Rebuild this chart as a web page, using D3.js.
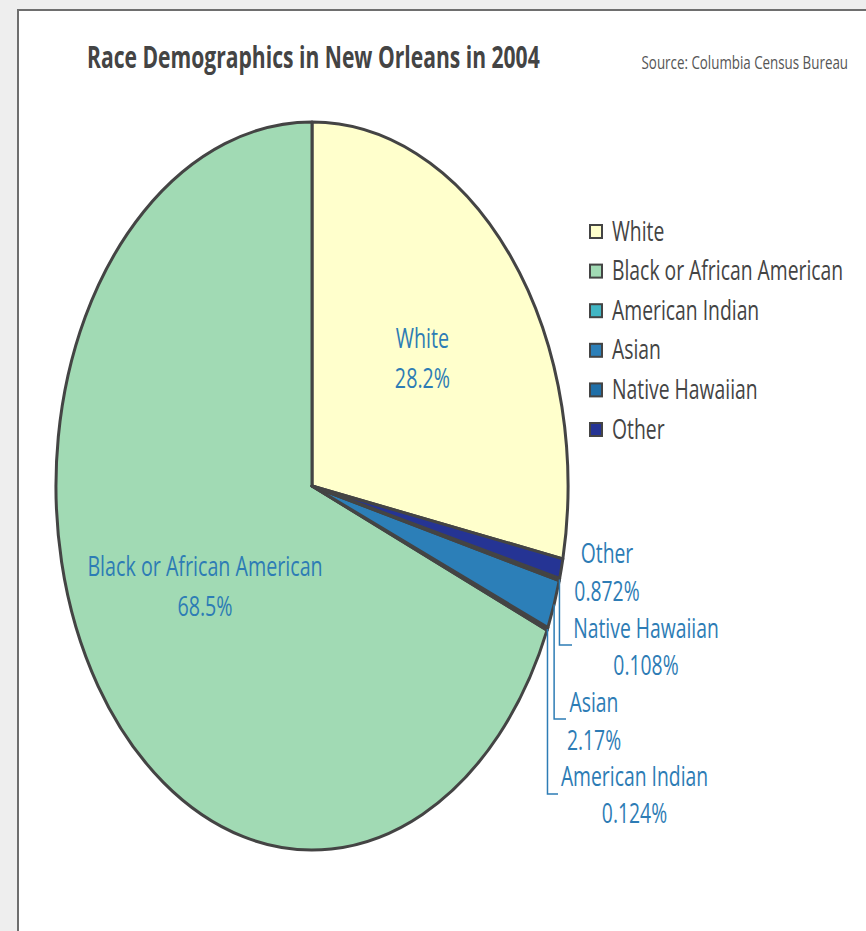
<!DOCTYPE html>
<html>
<head>
<meta charset="utf-8">
<script src="https://cdn.jsdelivr.net/npm/d3@7"></script>
<style>
  body { margin: 0; background: #eeeeee; overflow: hidden; }
  #panel { position: absolute; left: 17px; top: 9px; width: 900px; height: 1000px;
           background: #fff; border: 2px solid #6e6e6e; }
  svg { position: absolute; left: 0; top: 0; font-family: "Open Sans", sans-serif; }
</style>
</head>
<body>
<div id="panel"></div>
<svg width="866" height="931"></svg>
<script>
// pie chart - race demographics
var categories = ["White", "Black or African American", "American Indian", "Asian", "Native Hawaiian", "Other"];
var values = [28.2, 68.5, 0.124, 2.17, 0.108, 0.872];
var valueLabels = ["28.2%", "68.5%", "0.124%", "2.17%", "0.108%", "0.872%"];
var colors = ["#ffffcc", "#a1dab4", "#41b6c4", "#2c7fb8", "#1f6fa8", "#253494"];

var sx = 0.7034;          // picture is squeezed horizontally
var cx = 312, cy = 486, R = 364;
var labelColor = "#2d7cb5";

var svg = d3.select("svg");

function addText(x, y, str, size, color, anchor, weight) {
    return svg.append("g")
        .attr("transform", "translate(" + x + "," + y + ") scale(" + sx + ",1)")
        .append("text")
        .attr("dy", "0.35em")
        .attr("font-size", size)
        .attr("fill", color)
        .attr("text-anchor", anchor || "start")
        .attr("font-weight", weight || "normal")
        .text(str);
}

// title + source
addText(87, 57, "Race Demographics in New Orleans in 2004", 30, "#444", "start", "bold");
addText(848, 62, "Source: Columbia Census Bureau", 19, "#555", "end");

// pie, drawn counter-clockwise so that White starts at 12 o'clock
var total = d3.sum(values);
var a0 = 2 * Math.PI * values[0] / total;
var pie = d3.pie().sort(null).value(function (d) { return d; })
    .startAngle(a0).endAngle(a0 - 2 * Math.PI);
var arcs = pie(values);
var arc = d3.arc().innerRadius(0).outerRadius(R);

var pieG = svg.append("g")
    .attr("transform", "translate(" + cx + "," + cy + ") scale(" + sx + ",1)");
pieG.selectAll("path")
    .data(arcs)
    .enter()
    .append("path")
    .attr("d", arc)
    .attr("fill", function (d, i) { return colors[i]; })
    .attr("stroke", "#444")
    .attr("stroke-width", 3)
    .attr("stroke-linejoin", "round")
    .attr("vector-effect", "non-scaling-stroke");

// inside labels (White, Black)
var insideR = [0.557 * R, 0.5 * R];
[0, 1].forEach(function (i) {
    var c = d3.arc().innerRadius(insideR[i]).outerRadius(insideR[i]).centroid(arcs[i]);
    var x = cx + c[0] * sx, y = cy + c[1];
    addText(x, y - 20, categories[i], 28, labelColor, "middle");
    addText(x, y + 20, valueLabels[i], 28, labelColor, "middle");
});

// outside labels with leader lines
var outside = [
    { i: 5, x: 607, y1: 553, y2: 591, lead: false },
    { i: 4, x: 646, y1: 628, y2: 665, lead: true, ly: 645, lx: 572 },
    { i: 3, x: 594, y1: 702, y2: 740, lead: true, ly: 719, lx: 566 },
    { i: 2, x: 634.5, y1: 776, y2: 813, lead: true, ly: 794, lx: 558 }
];
outside.forEach(function (o) {
    var d = arcs[o.i];
    var mid = (d.startAngle + d.endAngle) / 2;
    if (o.lead) {
        var px = cx + R * Math.sin(mid) * sx, py = cy - R * Math.cos(mid);
        svg.append("path")
            .attr("d", "M" + px + "," + py + "V" + o.ly + "H" + o.lx)
            .attr("fill", "none")
            .attr("stroke", labelColor)
            .attr("stroke-width", 1.5);
    }
    addText(o.x, o.y1, categories[o.i], 27.5, labelColor, "middle");
    addText(o.x, o.y2, valueLabels[o.i], 27.5, labelColor, "middle");
});

// legend
var legendTop = 231, legendStep = 39.6;
categories.forEach(function (c, i) {
    var y = legendTop + i * legendStep;
    svg.append("rect")
        .attr("x", 590).attr("y", y - 6)
        .attr("width", 12).attr("height", 13)
        .attr("fill", colors[i])
        .attr("stroke", "#444").attr("stroke-width", 2);
    addText(612, y, c, 27.5, "#444");
});
</script>
</body>
</html>
